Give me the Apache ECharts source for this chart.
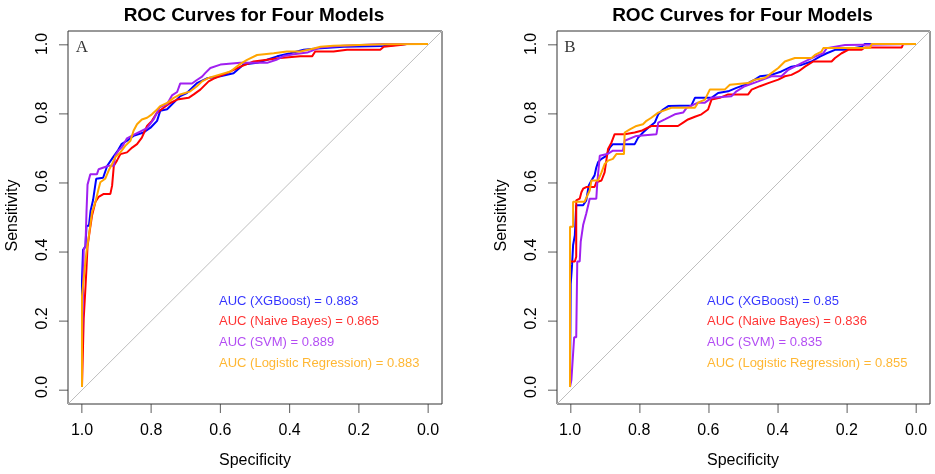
<!DOCTYPE html>
<html><head><meta charset="utf-8">
<script src="https://cdn.jsdelivr.net/npm/echarts@6/dist/echarts.min.js"></script>
<style>html,body{margin:0;padding:0;background:#fff}#c{width:935px;height:474px}</style>
</head><body><div id="c"></div>
<script>
var titleText = "ROC Curves for Four Models";
var panelLetters = ["A", "B"];
var modelNames = ["XGBoost", "Naive Bayes", "SVM", "Logistic Regression"];
var modelColors = ["#0000FF", "#FF0000", "#A020F0", "#FFA500"];
var aucA = ["0.883", "0.865", "0.889", "0.883"];
var aucB = ["0.85", "0.836", "0.835", "0.855"];
var axisMin = 0, axisMax = 1, axisStep = 0.2;
var tickValues = [0, 0.2, 0.4, 0.6, 0.8, 1.0];
var frameMin = -0.04, frameMax = 1.04;
var legendSens = [0.25, 0.19, 0.13, 0.07];

var A_XGB = [[1,0],[1,0.31],[0.997,0.40],[0.99,0.41],[0.987,0.47],[0.98,0.47],[0.975,0.515],[0.968,0.545],[0.959,0.607],[0.939,0.61],[0.927,0.645],[0.91,0.67],[0.896,0.69],[0.886,0.708],[0.867,0.72],[0.851,0.732],[0.822,0.742],[0.802,0.756],[0.783,0.776],[0.774,0.805],[0.754,0.81],[0.716,0.848],[0.697,0.857],[0.668,0.886],[0.639,0.9],[0.6,0.906],[0.562,0.915],[0.533,0.94],[0.494,0.945],[0.465,0.954],[0.436,0.964],[0.398,0.973],[0.359,0.983],[0.321,0.987],[0.244,0.992],[0.128,0.994],[0.061,1],[0,1]];
var A_NB = [[1,0],[0.997,0.12],[0.995,0.2],[0.99,0.29],[0.987,0.347],[0.984,0.41],[0.978,0.453],[0.971,0.50],[0.961,0.54],[0.952,0.554],[0.937,0.563],[0.918,0.563],[0.913,0.587],[0.908,0.645],[0.899,0.66],[0.889,0.679],[0.87,0.684],[0.855,0.698],[0.841,0.708],[0.827,0.727],[0.812,0.761],[0.798,0.776],[0.783,0.80],[0.764,0.814],[0.745,0.828],[0.725,0.838],[0.692,0.843],[0.677,0.853],[0.658,0.867],[0.634,0.891],[0.615,0.901],[0.581,0.915],[0.542,0.934],[0.504,0.949],[0.465,0.954],[0.427,0.959],[0.369,0.964],[0.335,0.964],[0.326,0.978],[0.273,0.978],[0.234,0.983],[0.138,0.983],[0.128,0.992],[0.08,0.997],[0.061,1],[0,1]];
var A_SVM = [[1,0],[1,0.12],[0.997,0.29],[0.995,0.40],[0.99,0.41],[0.987,0.51],[0.984,0.59],[0.976,0.62],[0.957,0.62],[0.952,0.635],[0.923,0.645],[0.908,0.645],[0.904,0.675],[0.894,0.69],[0.884,0.70],[0.870,0.725],[0.851,0.735],[0.831,0.745],[0.812,0.755],[0.793,0.78],[0.776,0.815],[0.754,0.825],[0.740,0.85],[0.725,0.86],[0.716,0.885],[0.682,0.885],[0.668,0.895],[0.653,0.905],[0.644,0.915],[0.629,0.93],[0.600,0.94],[0.542,0.945],[0.465,0.945],[0.436,0.955],[0.417,0.965],[0.388,0.97],[0.349,0.975],[0.311,0.99],[0.244,0.995],[0.128,1.0],[0,1]];
var A_LR = [[1,0],[1,0.265],[0.992,0.347],[0.987,0.395],[0.981,0.434],[0.971,0.51],[0.961,0.54],[0.952,0.578],[0.947,0.597],[0.933,0.607],[0.923,0.631],[0.913,0.65],[0.904,0.67],[0.889,0.684],[0.875,0.703],[0.86,0.718],[0.851,0.747],[0.841,0.766],[0.827,0.78],[0.812,0.785],[0.798,0.795],[0.783,0.809],[0.774,0.819],[0.754,0.828],[0.735,0.843],[0.716,0.853],[0.687,0.862],[0.668,0.877],[0.653,0.891],[0.634,0.901],[0.605,0.91],[0.571,0.92],[0.547,0.939],[0.523,0.954],[0.494,0.968],[0.446,0.973],[0.408,0.978],[0.369,0.978],[0.33,0.987],[0.311,0.992],[0.273,0.995],[0.128,0.999],[0,1]];

var B_XGB = [[1,0],[0.998,0.30],[0.994,0.356],[0.991,0.414],[0.986,0.443],[0.982,0.53],[0.962,0.53],[0.953,0.544],[0.946,0.587],[0.938,0.602],[0.929,0.617],[0.924,0.64],[0.919,0.655],[0.909,0.665],[0.895,0.674],[0.885,0.698],[0.876,0.708],[0.813,0.708],[0.803,0.727],[0.789,0.742],[0.774,0.756],[0.755,0.771],[0.745,0.795],[0.731,0.809],[0.716,0.819],[0.649,0.821],[0.639,0.843],[0.591,0.843],[0.572,0.857],[0.543,0.862],[0.519,0.872],[0.495,0.881],[0.466,0.896],[0.451,0.906],[0.418,0.91],[0.389,0.92],[0.36,0.934],[0.331,0.939],[0.302,0.949],[0.278,0.963],[0.258,0.973],[0.234,0.983],[0.205,0.983],[0.157,0.992],[0.148,1],[0,1]];
var B_NB = [[1,0],[1,0.366],[0.986,0.366],[0.982,0.38],[0.982,0.544],[0.972,0.549],[0.967,0.568],[0.962,0.578],[0.953,0.583],[0.929,0.583],[0.924,0.597],[0.909,0.602],[0.9,0.626],[0.89,0.694],[0.88,0.713],[0.871,0.737],[0.842,0.737],[0.813,0.742],[0.794,0.747],[0.765,0.761],[0.688,0.761],[0.673,0.771],[0.659,0.78],[0.639,0.788],[0.62,0.795],[0.601,0.809],[0.591,0.838],[0.567,0.843],[0.543,0.853],[0.485,0.853],[0.475,0.867],[0.451,0.877],[0.427,0.886],[0.398,0.896],[0.379,0.906],[0.36,0.91],[0.34,0.92],[0.321,0.934],[0.297,0.949],[0.244,0.949],[0.234,0.959],[0.215,0.973],[0.196,0.983],[0.157,0.983],[0.148,0.99],[0.041,0.99],[0.037,1],[0,1]];
var B_SVM = [[1,0],[0.996,0.02],[0.991,0.02],[0.988,0.145],[0.982,0.145],[0.979,0.366],[0.972,0.366],[0.969,0.424],[0.962,0.472],[0.953,0.506],[0.943,0.549],[0.924,0.549],[0.921,0.597],[0.914,0.674],[0.89,0.68],[0.876,0.689],[0.847,0.689],[0.842,0.718],[0.808,0.732],[0.75,0.737],[0.745,0.771],[0.726,0.78],[0.697,0.795],[0.673,0.8],[0.663,0.814],[0.63,0.829],[0.61,0.829],[0.591,0.843],[0.533,0.848],[0.519,0.862],[0.495,0.877],[0.456,0.891],[0.418,0.906],[0.389,0.906],[0.369,0.925],[0.35,0.934],[0.331,0.944],[0.292,0.963],[0.268,0.973],[0.258,0.988],[0.205,0.997],[0.201,1],[0,1]];
var B_LR = [[1,0],[1,0.467],[0.991,0.467],[0.991,0.54],[0.958,0.54],[0.943,0.573],[0.938,0.602],[0.919,0.602],[0.909,0.626],[0.9,0.65],[0.89,0.66],[0.876,0.665],[0.866,0.679],[0.844,0.679],[0.842,0.742],[0.827,0.751],[0.808,0.761],[0.789,0.766],[0.779,0.776],[0.765,0.785],[0.745,0.8],[0.721,0.809],[0.707,0.814],[0.639,0.814],[0.63,0.829],[0.61,0.838],[0.596,0.867],[0.553,0.867],[0.538,0.881],[0.485,0.886],[0.466,0.896],[0.437,0.901],[0.418,0.915],[0.398,0.93],[0.379,0.949],[0.35,0.959],[0.302,0.959],[0.292,0.968],[0.273,0.978],[0.268,0.988],[0.133,0.988],[0.128,1],[0,1]];

var panelCurves = [[A_XGB, A_NB, A_SVM, A_LR], [B_XGB, B_NB, B_SVM, B_LR]];
var panelAuc = [aucA, aucB];

var FONT = "Liberation Sans, Arial, sans-serif";
var TICK = 9;
var frames = [
  {left: 68, top: 31, width: 374, height: 373},
  {left: 557, top: 31, width: 373, height: 373}
];
var plots = [
  {left: 82, top: 44, width: 346, height: 346},
  {left: 570, top: 44, width: 346, height: 346}
];
var grids = [], xAxes = [], yAxes = [], series = [], titles = [];

function hiddenAxis(gi, inverse) {
  return {gridIndex: gi, type: "value", min: frameMin, max: frameMax, inverse: !!inverse, show: false};
}

frames.forEach(function (f, p) {
  var gi = grids.length;
  grids.push({left: f.left, top: f.top, width: f.width, height: f.height, show: true,
    borderColor: "#333", borderWidth: 1, backgroundColor: "transparent"});
  xAxes.push(hiddenAxis(gi, true));
  yAxes.push(hiddenAxis(gi, false));
  // diagonal reference line over the full frame
  series.push({type: "line", xAxisIndex: gi, yAxisIndex: gi,
    data: [[frameMax, frameMin], [frameMin, frameMax]],
    symbol: "none", silent: true, lineStyle: {color: "#BEBEBE", width: 1}, z: 1});
  // outward tick marks on the bottom and left edges of the frame
  series.push({type: "scatter", xAxisIndex: gi, yAxisIndex: gi, silent: true, clip: false, z: 5,
    symbol: "rect", symbolSize: [1, TICK], symbolOffset: [0, TICK / 2],
    itemStyle: {color: "#333"},
    data: tickValues.map(function (t) { return [t, frameMin]; })});
  series.push({type: "scatter", xAxisIndex: gi, yAxisIndex: gi, silent: true, clip: false, z: 5,
    symbol: "rect", symbolSize: [TICK, 1], symbolOffset: [-TICK / 2, 0],
    itemStyle: {color: "#333"},
    data: tickValues.map(function (t) { return [frameMax, t]; })});
});

plots.forEach(function (g, p) {
  var f = frames[p];
  var gi = grids.length;
  grids.push({left: g.left, top: g.top, width: g.width, height: g.height, show: false});
  titles.push({text: titleText, left: f.left + f.width / 2 - 6, top: 1, textAlign: "center",
    textStyle: {fontFamily: FONT, fontSize: 19, fontWeight: "bold", color: "#000"}});
  xAxes.push({gridIndex: gi, type: "value", min: axisMin, max: axisMax, interval: axisStep, inverse: true,
    position: "bottom", offset: (f.top + f.height) - (g.top + g.height),
    name: "Specificity", nameLocation: "middle", nameGap: 52,
    nameTextStyle: {fontFamily: FONT, fontSize: 16, color: "#000"},
    axisLine: {show: false, onZero: false}, splitLine: {show: false}, axisTick: {show: false},
    axisLabel: {margin: 22, fontFamily: FONT, fontSize: 16, color: "#000",
      formatter: function (v) { return v.toFixed(1); }}});
  yAxes.push({gridIndex: gi, type: "value", min: axisMin, max: axisMax, interval: axisStep,
    position: "left", offset: g.left - f.left,
    name: "Sensitivity", nameLocation: "middle", nameGap: 47,
    nameTextStyle: {fontFamily: FONT, fontSize: 16, color: "#000"},
    axisLine: {show: false, onZero: false}, splitLine: {show: false}, axisTick: {show: false},
    axisLabel: {rotate: 90, margin: 17, fontFamily: FONT, fontSize: 16, color: "#000",
      formatter: function (v) { return v.toFixed(1); }}});
  panelCurves[p].forEach(function (d, i) {
    series.push({type: "line", name: modelNames[i], xAxisIndex: gi, yAxisIndex: gi, data: d,
      symbol: "none", lineStyle: {color: modelColors[i], width: 2}, z: 2 + i});
  });
  series.push({type: "scatter", xAxisIndex: gi, yAxisIndex: gi, symbolSize: 0, silent: true, z: 10,
    data: modelNames.map(function (m, i) {
      return {value: [0.604, legendSens[i]], label: {show: true, position: "right", distance: 0,
        formatter: "AUC (" + m + ") = " + panelAuc[p][i], color: modelColors[i],
        fontFamily: FONT, fontSize: 13}};
    })});
  series.push({type: "scatter", xAxisIndex: gi, yAxisIndex: gi, symbolSize: 0, silent: true, z: 10,
    data: [{value: [1.0, 0.991], label: {show: true, position: "inside", formatter: panelLetters[p],
      color: "#000", fontFamily: "Liberation Serif, Times New Roman, serif", fontSize: 17}}]});
});

var chart = echarts.init(document.getElementById("c"), null, {renderer: "canvas"});
chart.setOption({
  animation: false, backgroundColor: "#fff",
  title: titles, grid: grids, xAxis: xAxes, yAxis: yAxes, series: series
});
</script></body></html>
